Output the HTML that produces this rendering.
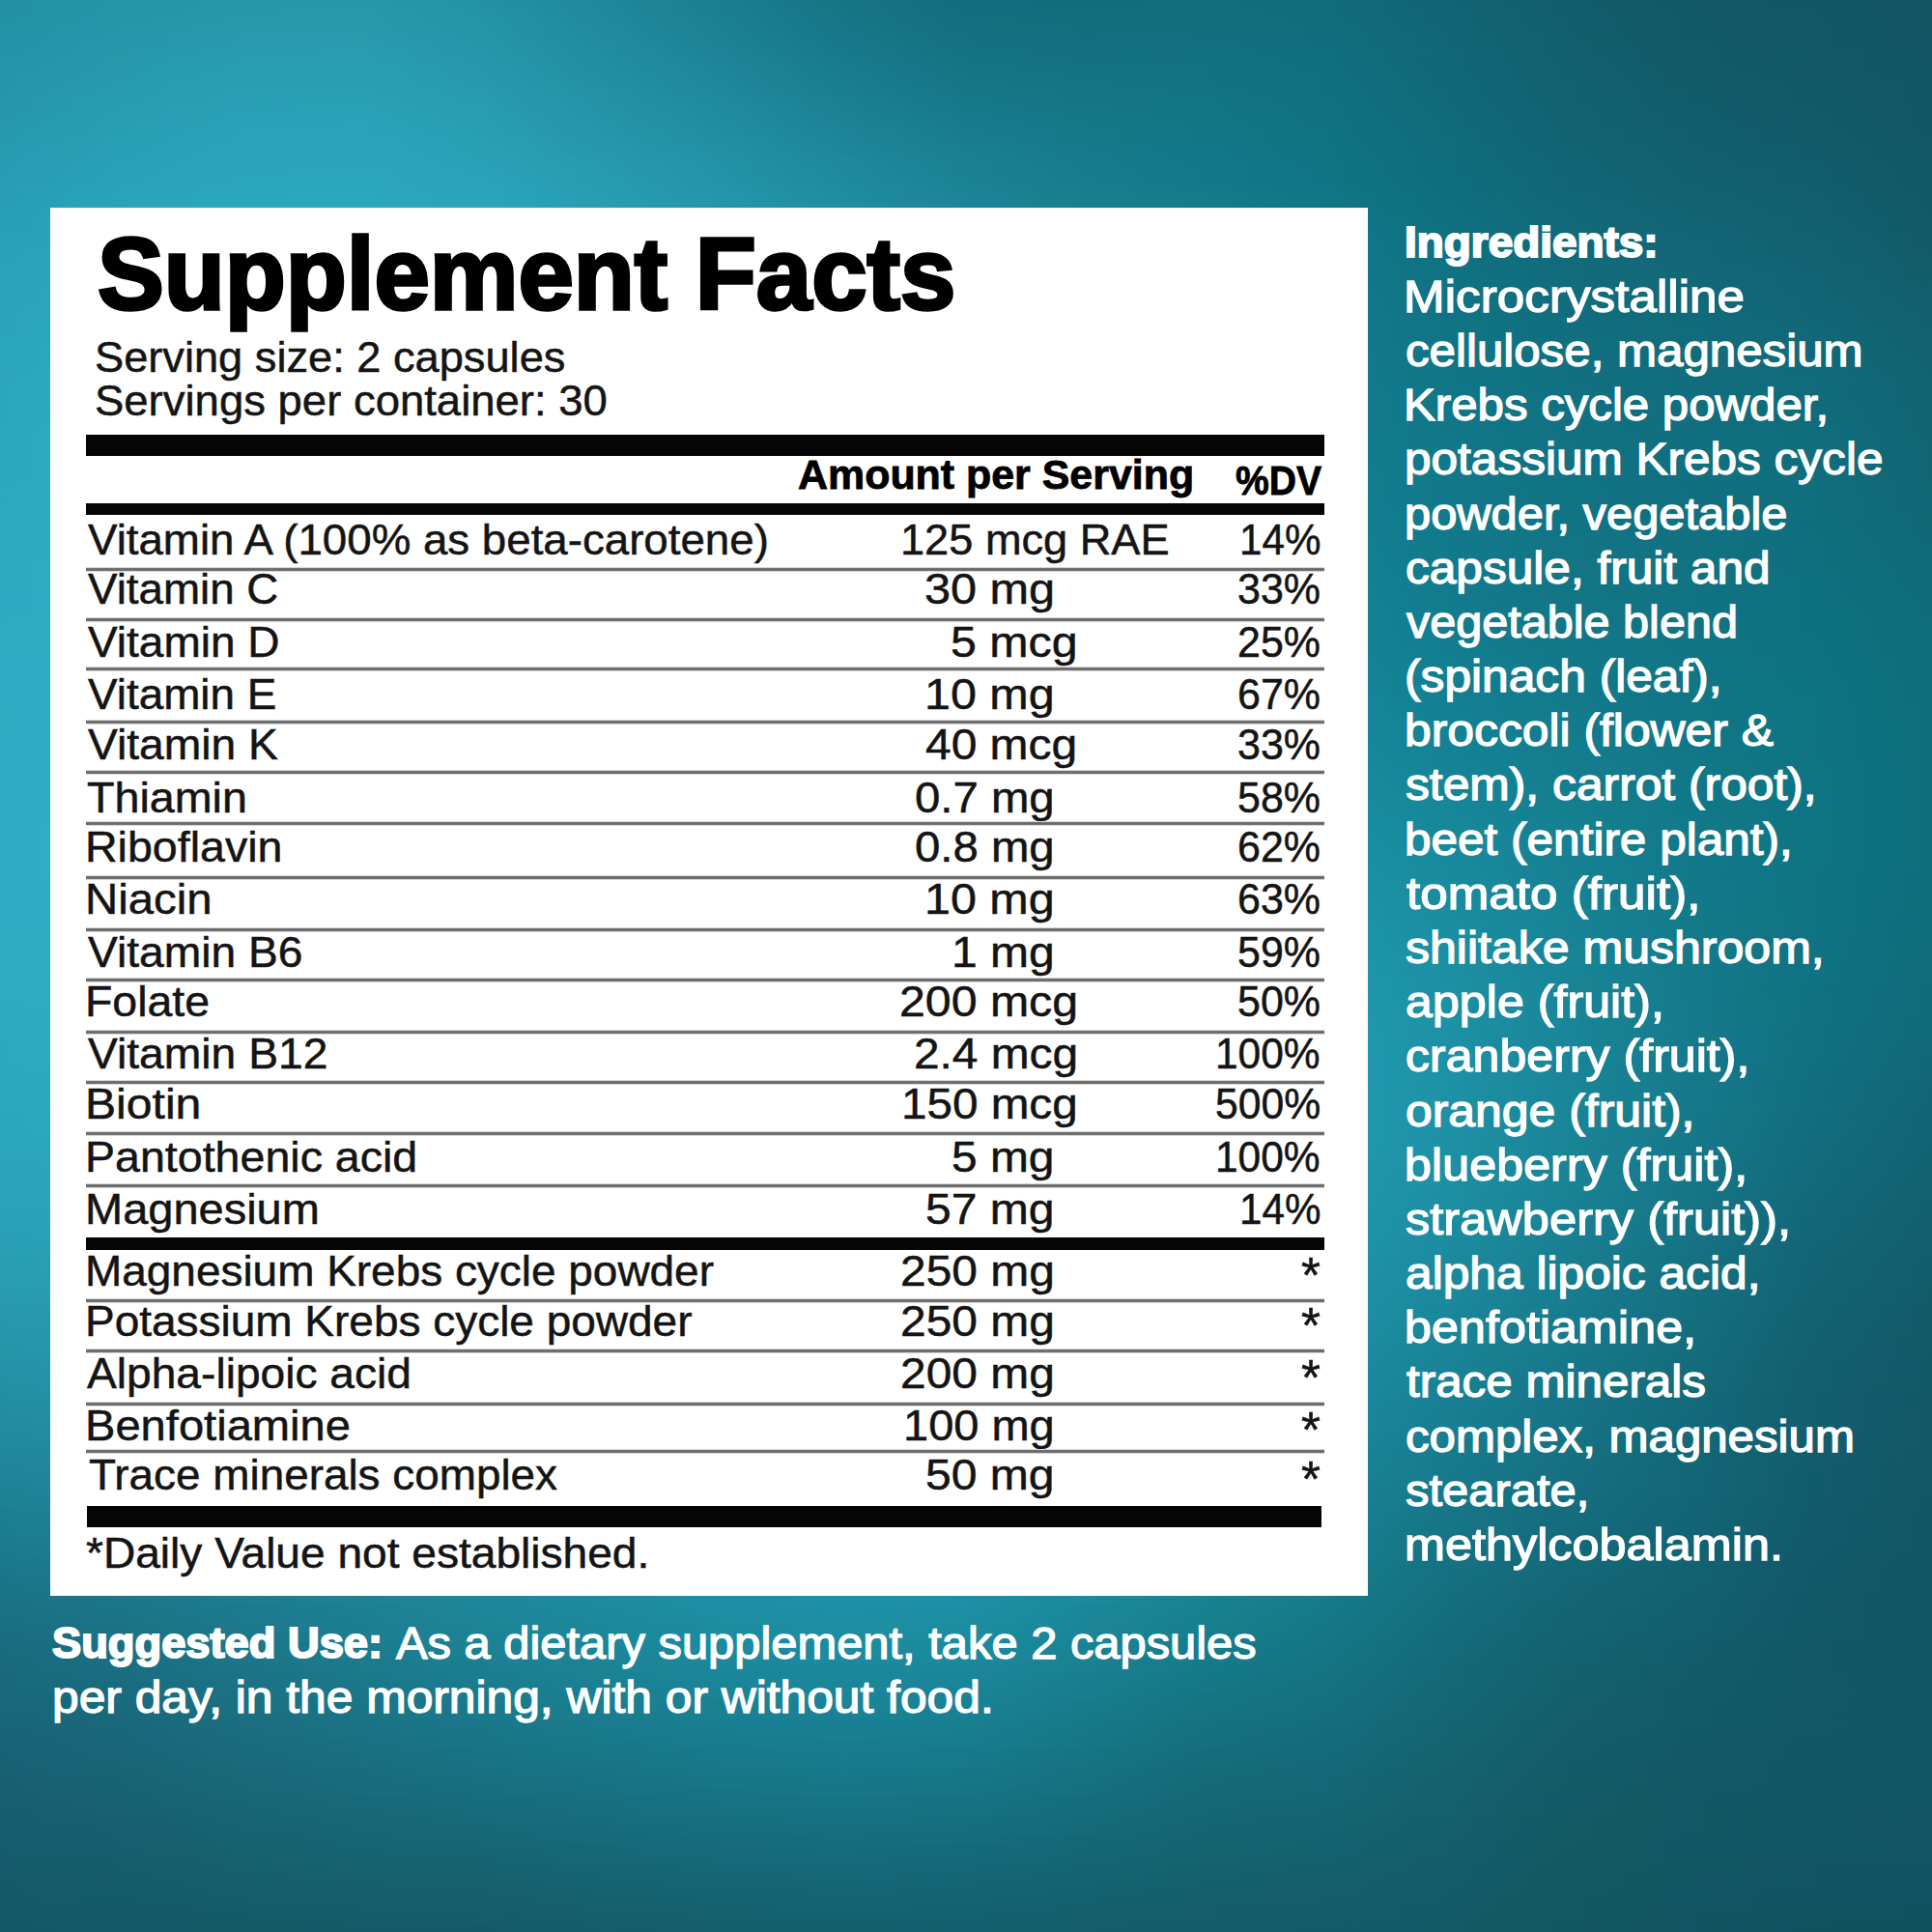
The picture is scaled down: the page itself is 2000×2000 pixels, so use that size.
<!DOCTYPE html>
<html lang="en"><head><meta charset="utf-8"><title>Supplement Facts</title>
<style>
html,body{margin:0;padding:0;}
body{width:2000px;height:2000px;position:relative;overflow:hidden;font-family:'Liberation Sans', Arimo, Arial, sans-serif;
background:#1a7a8e;}
.bg{position:absolute;left:0;top:0;width:2000px;height:2000px;}
.bg i{display:block;height:10px;}
.panel{position:absolute;left:52px;top:215px;width:1364px;height:1437px;background:#fff;}
.t{position:absolute;white-space:nowrap;line-height:1;color:#141414;transform-origin:0 0;font-weight:400;}
.t.r{transform-origin:100% 0;}
.t.b{font-weight:700;color:#000;}
.t.w{color:#fff;}
.bar{position:absolute;left:89px;width:1282px;background:#050505;}
.ln{position:absolute;left:89px;width:1282px;height:5px;background:linear-gradient(#d6d6d6 0,#d6d6d6 20%,#747474 20%,#747474 40%,#686868 40%,#686868 60%,#747474 60%,#747474 80%,#d6d6d6 80%);}
</style></head>
<body>
<div class="bg" aria-hidden="true">
<i style="background:linear-gradient(90deg,#2291a4,#2494a8,#2697ab,#2698ab,#2392a5,#1f889c,#1b7e91,#177486,#146d7e,#136c7c,#136d7d,#116b7b,#116474,#115d6b,#125866,#125663,#135461)"></i>
<i style="background:linear-gradient(90deg,#2291a5,#2495a9,#2698ac,#2799ac,#2493a6,#1f899d,#1b7f92,#177587,#146e7f,#136d7d,#136e7d,#116b7b,#116574,#115e6c,#125966,#125764,#135461)"></i>
<i style="background:linear-gradient(90deg,#2292a6,#2596aa,#2799ad,#2799ad,#2494a7,#208a9e,#1c8093,#177688,#146f80,#136e7e,#136e7e,#116c7c,#116574,#115e6c,#125966,#125764,#135562)"></i>
<i style="background:linear-gradient(90deg,#2292a7,#2597ab,#279aae,#279aae,#2495a8,#208b9f,#1c8195,#187789,#157081,#146e7f,#136f7f,#116d7d,#116675,#115f6c,#125967,#125765,#135562)"></i>
<i style="background:linear-gradient(90deg,#2393a7,#2597ac,#279aaf,#289baf,#2595aa,#218ca0,#1c8296,#18788b,#157182,#146f80,#137080,#116d7d,#116675,#115f6d,#125a67,#125765,#135562)"></i>
<i style="background:linear-gradient(90deg,#2394a8,#2698ac,#289bb0,#289cb0,#2596ab,#218da1,#1d8397,#19798c,#157283,#147081,#137080,#116e7e,#116776,#115f6d,#125a68,#125865,#135562)"></i>
<i style="background:linear-gradient(90deg,#2394a9,#2699ad,#289cb1,#289db1,#2697ac,#218ea2,#1d8599,#197b8d,#167384,#147181,#137181,#116e7e,#106776,#11606e,#125a68,#125866,#125562)"></i>
<i style="background:linear-gradient(90deg,#2495aa,#2699ae,#289db2,#299eb2,#2698ad,#228fa3,#1e869a,#197c8f,#167486,#147282,#137282,#116f7f,#106777,#11606e,#125b69,#125866,#125562)"></i>
<i style="background:linear-gradient(90deg,#2496aa,#279aaf,#299eb3,#299eb3,#2699ae,#2290a4,#1e879b,#1a7d90,#177587,#157383,#137282,#116f7f,#106877,#11616f,#125b69,#125967,#125663)"></i>
<i style="background:linear-gradient(90deg,#2496ab,#279bb0,#299eb4,#299fb4,#279aaf,#2391a6,#1f889d,#1a7e91,#177789,#157485,#137383,#117080,#106878,#11616f,#115c6a,#115967,#125663)"></i>
<i style="background:linear-gradient(90deg,#2597ac,#279cb1,#299fb5,#2aa0b5,#279bb0,#2392a7,#1f8a9e,#1b8093,#17788a,#157586,#137484,#117081,#106978,#116170,#115c6a,#115968,#125663)"></i>
<i style="background:linear-gradient(90deg,#2597ad,#289cb2,#2aa0b6,#2aa1b6,#289cb1,#2493a8,#208b9f,#1b8194,#18798b,#157687,#137485,#117181,#106979,#116270,#115d6b,#115a68,#125663)"></i>
<i style="background:linear-gradient(90deg,#2598ad,#289db3,#2aa1b6,#2aa2b7,#289db2,#2494a9,#208ca1,#1c8296,#187b8d,#157788,#137585,#117182,#106a79,#116271,#115d6b,#115a69,#125663)"></i>
<i style="background:linear-gradient(90deg,#2699ae,#289eb3,#2aa2b7,#2ba2b8,#289eb3,#2595aa,#218da2,#1c8497,#197c8e,#167889,#137686,#107282,#106a7a,#116372,#115e6c,#115b69,#125664)"></i>
<i style="background:linear-gradient(90deg,#2699af,#289fb4,#2aa2b8,#2ba3b9,#299fb4,#2596ab,#218fa3,#1d8599,#197d90,#16798a,#137687,#107283,#106b7a,#116372,#115e6d,#115b6a,#115764)"></i>
<i style="background:linear-gradient(90deg,#269ab0,#299fb5,#2ba3b9,#2ba4ba,#299fb5,#2697ad,#2290a5,#1d869a,#1a7f91,#167a8b,#127788,#107383,#106b7b,#116473,#115f6d,#115c6a,#115764)"></i>
<i style="background:linear-gradient(90deg,#279bb1,#29a0b6,#2ba4ba,#2ba4bb,#2aa0b6,#2699ae,#2291a6,#1e889c,#1a8093,#167b8c,#127889,#107384,#0f6c7c,#116573,#115f6e,#115c6b,#115764)"></i>
<i style="background:linear-gradient(90deg,#279bb1,#29a1b7,#2ba4bb,#2ca5bc,#2aa1b7,#279aaf,#2292a7,#1e899d,#1a8194,#167c8d,#127989,#107485,#0f6c7c,#116574,#11606f,#115d6c,#115865)"></i>
<i style="background:linear-gradient(90deg,#279cb2,#2aa1b7,#2ba5bb,#2ca6bc,#2aa2b8,#279bb0,#2393a8,#1e8a9e,#1b8295,#167d8e,#12798a,#107485,#0f6d7d,#116675,#116070,#115d6c,#115865)"></i>
<i style="background:linear-gradient(90deg,#289db3,#2aa2b8,#2ca6bc,#2ca6bd,#2ba3b9,#279cb1,#2394a9,#1f8ba0,#1b8396,#177e8f,#127a8b,#107586,#0f6d7d,#116675,#116170,#115e6d,#115865)"></i>
<i style="background:linear-gradient(90deg,#289db4,#2aa3b9,#2ca6bd,#2ca7be,#2ba3ba,#289cb2,#2495aa,#1f8ca1,#1b8498,#177e90,#137b8c,#107686,#0f6e7e,#116776,#126271,#115f6e,#115966)"></i>
<i style="background:linear-gradient(90deg,#289eb5,#2aa3ba,#2ca7bd,#2da7bf,#2ba4bb,#289db3,#2496ab,#208da2,#1c8599,#177f91,#137b8d,#107687,#0f6e7f,#116877,#126372,#115f6e,#115966)"></i>
<i style="background:linear-gradient(90deg,#299fb5,#2ba4ba,#2ca7be,#2da8bf,#2ba5bb,#299eb4,#2497ac,#208ea3,#1c869a,#178092,#137c8d,#107788,#106f7f,#116877,#126473,#11606f,#115a67)"></i>
<i style="background:linear-gradient(90deg,#299fb6,#2ba4bb,#2ca8bf,#2da8c0,#2ca5bc,#299fb5,#2598ad,#208fa4,#1c879b,#178193,#137c8e,#107788,#107080,#116978,#126474,#116070,#125a67)"></i>
<i style="background:linear-gradient(90deg,#29a0b7,#2ba5bc,#2da8bf,#2da9c0,#2ca6bd,#29a0b6,#2599ae,#2190a5,#1c889c,#178294,#137d8f,#107889,#107081,#116979,#126575,#116170,#125b68)"></i>
<i style="background:linear-gradient(90deg,#29a1b7,#2ba5bc,#2da9c0,#2da9c1,#2ca6bd,#29a0b6,#2599af,#2191a6,#1d899d,#188295,#137d8f,#107889,#107181,#116a79,#126675,#116271,#125b68)"></i>
<i style="background:linear-gradient(90deg,#2aa1b8,#2ca6bd,#2da9c0,#2eaac1,#2ca7be,#2aa1b7,#269ab0,#2192a7,#1d8a9e,#188396,#137e90,#11788a,#107182,#116a7a,#126676,#116272,#125c69)"></i>
<i style="background:linear-gradient(90deg,#2aa2b9,#2ca6bd,#2daac1,#2eaac2,#2da7be,#2aa2b8,#269bb1,#2193a8,#1d8b9f,#188497,#137f91,#11798a,#107282,#116b7b,#126777,#116372,#125d6a)"></i>
<i style="background:linear-gradient(90deg,#2aa2b9,#2ca7be,#2daac1,#2eabc2,#2da8bf,#2aa2b8,#269bb1,#2293a9,#1d8b9f,#188598,#137f91,#11798b,#107283,#116b7b,#126877,#116473,#125d6a)"></i>
<i style="background:linear-gradient(90deg,#2aa3ba,#2ca7be,#2eaac2,#2eabc2,#2da8bf,#2aa3b9,#269cb2,#2294a9,#1d8ca0,#188598,#137f92,#117a8b,#107283,#116c7c,#126878,#116474,#125e6b)"></i>
<i style="background:linear-gradient(90deg,#2aa3ba,#2ca7bf,#2eabc2,#2eabc3,#2da9c0,#2ba3ba,#279db3,#2295aa,#1d8da1,#188699,#148092,#117a8c,#107384,#116c7c,#126979,#116574,#125e6c)"></i>
<i style="background:linear-gradient(90deg,#2ba3ba,#2da8bf,#2eabc2,#2eacc3,#2da9c0,#2ba4ba,#279db3,#2295ab,#1e8ea2,#18879a,#148093,#117a8c,#107384,#116d7d,#126979,#116675,#125f6c)"></i>
<i style="background:linear-gradient(90deg,#2ba4bb,#2da8bf,#2eabc3,#2eacc3,#2ea9c1,#2ba4bb,#279eb4,#2396ab,#1e8ea3,#19879a,#148193,#117b8d,#107385,#116d7d,#116a7a,#116676,#12606d)"></i>
<i style="background:linear-gradient(90deg,#2ba4bb,#2da8c0,#2eabc3,#2facc4,#2eaac1,#2ba5bb,#279eb4,#2397ac,#1e8fa3,#19889b,#148194,#117b8d,#107485,#116e7e,#116a7a,#116776,#12606e)"></i>
<i style="background:linear-gradient(90deg,#2ba4bb,#2da9c0,#2eacc3,#2facc4,#2eaac1,#2ba5bc,#279fb5,#2397ad,#1e8fa4,#19889c,#148295,#117b8d,#107485,#116e7e,#116b7b,#116877,#11616e)"></i>
<i style="background:linear-gradient(90deg,#2ba5bc,#2da9c0,#2eacc3,#2facc4,#2eaac2,#2ba5bc,#289fb5,#2398ad,#1e90a5,#19899c,#148295,#117b8e,#107486,#116f7f,#116b7b,#116877,#11616f)"></i>
<i style="background:linear-gradient(90deg,#2ba5bc,#2da9c1,#2facc4,#2fadc4,#2eaac2,#2ca6bc,#289fb6,#2398ae,#1e90a5,#19899d,#148296,#117c8e,#107586,#116f7f,#116c7c,#116978,#116270)"></i>
<i style="background:linear-gradient(90deg,#2ba5bc,#2da9c1,#2facc4,#2fadc5,#2eabc2,#2ca6bd,#28a0b6,#2499ae,#1e91a6,#198a9e,#148396,#117c8e,#107586,#116f80,#116c7c,#116979,#116370)"></i>
<i style="background:linear-gradient(90deg,#2ca5bc,#2daac1,#2facc4,#2fadc5,#2eabc2,#2ca6bd,#28a0b7,#2499af,#1f91a6,#198a9e,#148396,#117c8f,#107587,#117080,#116d7c,#116a79,#116371)"></i>
<i style="background:linear-gradient(90deg,#2ca6bd,#2eaac1,#2fadc4,#2fadc5,#2eabc3,#2ca6bd,#28a0b7,#2499af,#1f92a7,#198b9f,#158497,#117c8f,#107587,#117080,#116d7d,#116b7a,#116471)"></i>
<i style="background:linear-gradient(90deg,#2ca6bd,#2eaac1,#2fadc4,#2fadc5,#2eabc3,#2ca7be,#28a1b7,#249ab0,#1f92a7,#198b9f,#158497,#117d8f,#107687,#117081,#116d7d,#106b7a,#116472)"></i>
<i style="background:linear-gradient(90deg,#2ca6bd,#2eaac2,#2fadc5,#2fadc5,#2fabc3,#2ca7be,#29a1b8,#249ab0,#1f93a8,#1a8ca0,#158498,#117d90,#107688,#117181,#116e7e,#106b7b,#116472)"></i>
<i style="background:linear-gradient(90deg,#2ca6bd,#2eaac2,#2fadc5,#30aec5,#2fabc3,#2ca7be,#29a1b8,#249bb0,#1f93a8,#1a8ca0,#158598,#127d90,#107688,#117181,#116e7e,#106c7b,#116572)"></i>
<i style="background:linear-gradient(90deg,#2ca6bd,#2eaac2,#2fadc5,#30aec6,#2facc3,#2ca7be,#29a2b8,#249bb1,#1f94a9,#1a8ca1,#158599,#127d90,#107688,#117182,#116e7e,#106c7b,#116573)"></i>
<i style="background:linear-gradient(90deg,#2ca7be,#2eabc2,#2fadc5,#30aec6,#2facc3,#2ca7bf,#29a2b8,#249bb1,#1f94a9,#1a8da1,#158599,#127e91,#117788,#117182,#116f7e,#106d7c,#116573)"></i>
<i style="background:linear-gradient(90deg,#2ca7be,#2eabc2,#2fadc5,#30aec6,#2facc3,#2da8bf,#29a2b9,#259bb2,#1f94aa,#1a8da2,#158699,#127e91,#117789,#117282,#116f7f,#106d7c,#116673)"></i>
<i style="background:linear-gradient(90deg,#2ca7be,#2eabc2,#30adc5,#30aec6,#2facc3,#2da8bf,#29a2b9,#259cb2,#2095aa,#1a8da2,#15869a,#127e91,#117789,#117282,#116f7f,#106d7c,#116674)"></i>
<i style="background:linear-gradient(90deg,#2da7be,#2eabc2,#30adc5,#30aec6,#2facc4,#2da8bf,#29a2b9,#259cb2,#2095aa,#1a8ea2,#15869a,#127e92,#117789,#117283,#116f7f,#106d7c,#116674)"></i>
<i style="background:linear-gradient(90deg,#2da7be,#2eabc2,#30aec5,#30aec6,#2facc4,#2da8bf,#29a2b9,#259cb2,#2095ab,#1a8ea3,#15869a,#127f92,#11778a,#117283,#11707f,#106d7c,#116674)"></i>
<i style="background:linear-gradient(90deg,#2da7be,#2eabc3,#30aec5,#30aec6,#2facc4,#2da8bf,#29a3b9,#259cb3,#2096ab,#1b8ea3,#16879b,#127f92,#11788a,#117283,#117080,#106e7d,#116674)"></i>
<i style="background:linear-gradient(90deg,#2da8bf,#2fabc3,#30aec5,#30aec6,#2facc4,#2da8bf,#29a3ba,#259db3,#2096ac,#1b8fa4,#16879b,#127f92,#11788a,#117383,#117080,#106e7d,#116774)"></i>
<i style="background:linear-gradient(90deg,#2da8bf,#2fabc3,#30aec6,#30aec6,#2facc4,#2da8bf,#29a3ba,#259db3,#2096ac,#1b8fa4,#16879c,#127f93,#11788a,#117384,#117080,#106e7d,#116775)"></i>
<i style="background:linear-gradient(90deg,#2da8bf,#2fabc3,#30aec6,#30aec6,#2facc4,#2da8bf,#29a3ba,#259db3,#2097ac,#1b8fa4,#16889c,#128093,#11788b,#117384,#117080,#106e7d,#106775)"></i>
<i style="background:linear-gradient(90deg,#2da8bf,#2fabc3,#30aec6,#30aec6,#2facc4,#2da8bf,#2aa3ba,#259db4,#2097ac,#1b90a5,#16889c,#128093,#11798b,#117384,#117080,#106e7d,#106875)"></i>
<i style="background:linear-gradient(90deg,#2da8bf,#2facc3,#30aec6,#30aec6,#2facc4,#2da8bf,#2aa3ba,#259db4,#2097ad,#1b90a5,#16889d,#138094,#11798b,#117384,#117180,#0f6e7d,#106876)"></i>
<i style="background:linear-gradient(90deg,#2da8c0,#2facc3,#30aec6,#30aec6,#2facc4,#2da8bf,#2aa3ba,#259eb4,#2097ad,#1b90a5,#16899d,#138094,#11798b,#127485,#117181,#0f6f7d,#106876)"></i>
<i style="background:linear-gradient(90deg,#2da8c0,#2facc3,#30aec6,#30aec6,#2facc3,#2da8bf,#2aa3ba,#259eb4,#2198ad,#1b91a6,#16899d,#138194,#11798c,#127485,#117181,#0f6f7e,#106976)"></i>
<i style="background:linear-gradient(90deg,#2da9c0,#2facc3,#30aec6,#30aec6,#2facc3,#2da8bf,#2aa3ba,#269eb4,#2198ae,#1b91a6,#17899e,#138195,#117a8c,#127485,#117181,#0f6f7e,#106977)"></i>
<i style="background:linear-gradient(90deg,#2ea9c0,#2facc4,#30aec6,#30aec6,#2facc3,#2da8bf,#2aa3ba,#269eb4,#2198ae,#1c91a6,#178a9e,#138195,#117a8c,#127485,#117281,#0f6f7e,#106a77)"></i>
<i style="background:linear-gradient(90deg,#2ea9c0,#2facc4,#30aec6,#30aec6,#2facc3,#2da8bf,#2aa3ba,#269eb5,#2198ae,#1c92a7,#178a9e,#138295,#127a8d,#127586,#117281,#0f707e,#0f6a77)"></i>
<i style="background:linear-gradient(90deg,#2ea9c0,#2facc4,#30aec6,#30aec6,#2fabc3,#2da8bf,#2aa3ba,#269eb5,#2198ae,#1c92a7,#178a9f,#138296,#127b8d,#127586,#117282,#0f707f,#0f6a78)"></i>
<i style="background:linear-gradient(90deg,#2ea9c1,#2facc4,#30aec6,#30aec6,#2fabc3,#2da8bf,#2aa3ba,#269eb5,#2199af,#1c92a7,#178b9f,#138296,#127b8d,#127586,#117282,#0f707f,#0f6b78)"></i>
<i style="background:linear-gradient(90deg,#2ea9c1,#2facc4,#30aec6,#30aec5,#2fabc3,#2da8bf,#2aa3ba,#269eb5,#2199af,#1c93a8,#178b9f,#148396,#127b8e,#127687,#117382,#0e717f,#0f6b78)"></i>
<i style="background:linear-gradient(90deg,#2ea9c1,#2facc4,#30aec6,#30adc5,#2fabc3,#2da7bf,#2aa3ba,#269eb5,#2199af,#1c93a8,#178ba0,#148397,#127c8e,#127687,#117383,#0e717f,#0f6b79)"></i>
<i style="background:linear-gradient(90deg,#2eaac1,#30acc4,#30aec6,#30adc5,#2fabc3,#2da7bf,#2aa3ba,#269fb5,#2199af,#1c93a8,#188ca0,#148397,#127c8f,#127688,#117383,#0e7180,#0f6c79)"></i>
<i style="background:linear-gradient(90deg,#2eaac1,#30acc4,#30aec6,#30adc5,#2fabc3,#2da7bf,#2aa3ba,#269fb5,#229ab0,#1d93a9,#188ca1,#148497,#127d8f,#127788,#117483,#0e7180,#0f6c79)"></i>
<i style="background:linear-gradient(90deg,#2eaac1,#30acc4,#30aec6,#30adc5,#2fabc3,#2da7be,#2aa3ba,#269fb5,#229ab0,#1d94a9,#188ca1,#148498,#127d8f,#127788,#117484,#0e7280,#0f6c7a)"></i>
<i style="background:linear-gradient(90deg,#2eaac2,#30acc4,#31aec6,#30adc5,#2fabc2,#2da7be,#2aa3ba,#269fb5,#229ab0,#1d94aa,#188da1,#148598,#127d90,#127889,#107484,#0e7281,#0f6c7a)"></i>
<i style="background:linear-gradient(90deg,#2eaac2,#30adc4,#31aec6,#30adc5,#2fabc2,#2da7be,#2aa3ba,#269fb5,#229ab0,#1d94aa,#188da2,#148599,#137e90,#127889,#107584,#0e7281,#0f6d7a)"></i>
<i style="background:linear-gradient(90deg,#2eaac2,#30adc5,#31aec6,#30adc5,#2faac2,#2da7be,#2aa3ba,#269fb6,#229ab1,#1d95aa,#198ea2,#158699,#137e91,#12798a,#107585,#0e7281,#0f6d7a)"></i>
<i style="background:linear-gradient(90deg,#2eaac2,#30adc5,#31aec6,#30adc5,#2faac2,#2da7be,#2aa3ba,#269fb6,#229bb1,#1d95ab,#198ea3,#15869a,#137f91,#12798a,#107585,#0e7381,#0f6d7b)"></i>
<i style="background:linear-gradient(90deg,#2faac2,#30adc5,#31aec6,#30adc5,#2faac2,#2da6be,#2aa3ba,#269fb6,#229bb1,#1e95ab,#198fa3,#15869a,#137f92,#12798b,#107686,#0e7381,#0f6d7b)"></i>
<i style="background:linear-gradient(90deg,#2faac2,#30adc5,#31aec6,#30adc5,#2faac2,#2da6be,#2aa3ba,#269fb6,#229bb1,#1e96ab,#198fa4,#15879b,#138092,#127a8b,#107686,#0e7382,#0f6d7b)"></i>
<i style="background:linear-gradient(90deg,#2faac2,#30adc5,#31aec6,#30adc5,#2faac2,#2da6be,#2aa2ba,#279fb6,#229bb1,#1e96ac,#198fa4,#15879b,#138093,#127a8c,#107686,#0e7382,#0f6e7b)"></i>
<i style="background:linear-gradient(90deg,#2fabc2,#30adc5,#31aec6,#30adc4,#2faac1,#2da6bd,#2aa2b9,#279fb6,#229bb2,#1e96ac,#1a90a5,#16889c,#148193,#137b8c,#107687,#0e7382,#0f6e7b)"></i>
<i style="background:linear-gradient(90deg,#2fabc3,#30adc5,#31aec6,#30adc4,#2faac1,#2da6bd,#2aa2b9,#279fb6,#239cb2,#1e97ac,#1a90a5,#16899c,#148194,#137b8d,#117787,#0e7382,#0f6e7b)"></i>
<i style="background:linear-gradient(90deg,#2fabc3,#30adc5,#31aec6,#30acc4,#2faac1,#2da6bd,#2aa2b9,#279fb6,#239cb2,#1e97ad,#1a91a6,#16899d,#148294,#137c8d,#117787,#0e7382,#0f6e7c)"></i>
<i style="background:linear-gradient(90deg,#2fabc3,#30adc5,#31aec6,#30acc4,#2fa9c1,#2da6bd,#2aa2b9,#279fb6,#239cb2,#1f98ad,#1a91a6,#168a9d,#148295,#137c8e,#117788,#0e7382,#0f6e7c)"></i>
<i style="background:linear-gradient(90deg,#2fabc3,#30adc5,#31aec5,#30acc4,#2fa9c1,#2da5bd,#2aa2b9,#27a0b6,#239cb3,#1f98ae,#1b92a7,#178a9e,#148395,#137d8e,#117888,#0e7383,#0f6e7c)"></i>
<i style="background:linear-gradient(90deg,#2fabc3,#30adc5,#31aec5,#30acc4,#2fa9c1,#2da5bd,#2aa2b9,#27a0b6,#239db3,#1f98ae,#1b92a7,#178b9f,#158396,#137d8f,#117888,#0e7483,#0f6e7c)"></i>
<i style="background:linear-gradient(90deg,#2fabc3,#30adc5,#31adc5,#30acc4,#2fa9c1,#2da5bc,#2aa2b9,#27a0b6,#239db3,#1f99ae,#1b93a8,#178c9f,#158497,#137d8f,#117888,#0e7483,#0f6e7c)"></i>
<i style="background:linear-gradient(90deg,#2fabc3,#30adc5,#31adc5,#30acc4,#2fa9c1,#2da5bc,#2aa2b9,#27a0b7,#239db3,#1f99af,#1b93a8,#188ca0,#158597,#147e8f,#117888,#0e7483,#0f6e7c)"></i>
<i style="background:linear-gradient(90deg,#2fabc3,#30adc5,#31adc5,#30acc4,#2fa9c0,#2da5bc,#2aa2b9,#27a0b7,#239db4,#2099af,#1c94a9,#188da1,#168598,#147e90,#117889,#0e7483,#0f6e7c)"></i>
<i style="background:linear-gradient(90deg,#2fabc3,#30adc5,#31adc5,#30acc4,#2fa9c0,#2da5bc,#2aa2b9,#27a0b7,#249eb4,#209ab0,#1c94a9,#188da1,#168699,#147f90,#117889,#0e7483,#0f6e7c)"></i>
<i style="background:linear-gradient(90deg,#2fabc3,#30adc5,#31adc5,#30acc3,#2fa9c0,#2da5bc,#2aa2b9,#27a0b7,#249eb4,#209ab0,#1c95aa,#198ea2,#168799,#147f91,#117989,#0e7483,#0f6e7c)"></i>
<i style="background:linear-gradient(90deg,#30abc3,#30adc5,#30adc5,#30acc3,#2fa9c0,#2da5bc,#2aa2b9,#27a0b7,#249eb5,#209bb0,#1d95ab,#198fa3,#17879a,#148091,#127989,#0e7483,#0f6e7c)"></i>
<i style="background:linear-gradient(90deg,#30abc3,#30adc5,#30adc5,#30acc3,#2fa9c0,#2da5bc,#2aa2b9,#27a0b7,#249eb5,#209bb1,#1d96ab,#1a8fa3,#17889b,#158092,#127989,#0e7483,#0f6e7c)"></i>
<i style="background:linear-gradient(90deg,#30abc3,#30adc5,#30adc5,#30acc3,#2fa8c0,#2da5bc,#2aa2b9,#27a0b7,#249fb5,#209bb1,#1d97ac,#1a90a4,#17889b,#158092,#127989,#0e7483,#0f6e7c)"></i>
<i style="background:linear-gradient(90deg,#30abc3,#30adc5,#30adc5,#30abc3,#2ea8c0,#2da4bc,#2aa2b9,#27a1b7,#249fb5,#219cb2,#1d97ac,#1a91a5,#18899c,#158192,#12798a,#0e7483,#0f6e7c)"></i>
<i style="background:linear-gradient(90deg,#30abc3,#30adc5,#30adc5,#30abc3,#2ea8c0,#2ca4bc,#2aa2b9,#27a1b8,#249fb6,#219cb2,#1e98ad,#1b91a5,#188a9d,#158193,#12798a,#0f7483,#0f6e7c)"></i>
<i style="background:linear-gradient(90deg,#30abc3,#30adc5,#30adc5,#30abc3,#2ea8c0,#2ca4bc,#2aa2b9,#27a1b8,#249fb6,#219cb3,#1e98ad,#1b92a6,#188a9d,#168193,#12798a,#0f7383,#0f6d7c)"></i>
<i style="background:linear-gradient(90deg,#2fabc3,#30adc5,#30adc5,#2fabc3,#2ea8c0,#2ca4bc,#2aa2b9,#27a1b8,#24a0b6,#219db3,#1e99ae,#1b93a7,#198b9e,#168294,#13798a,#0f7383,#0f6d7c)"></i>
<i style="background:linear-gradient(90deg,#2fabc3,#30adc5,#30adc4,#2fabc3,#2ea8bf,#2ca4bc,#2aa2b9,#27a1b8,#24a0b6,#219db3,#1e99ae,#1c93a7,#198b9e,#168294,#13798a,#0f7383,#0f6d7b)"></i>
<i style="background:linear-gradient(90deg,#2fabc3,#30adc5,#30adc4,#2fabc2,#2ea8bf,#2ca4bc,#2aa2b9,#27a1b8,#25a0b7,#229eb4,#1f9aaf,#1c94a8,#198c9f,#168294,#13798a,#0f7383,#0f6d7b)"></i>
<i style="background:linear-gradient(90deg,#2fabc3,#30adc4,#30adc4,#2fabc2,#2ea8bf,#2ca4bc,#2aa2b9,#27a1b8,#25a0b7,#229eb4,#1f9aaf,#1c94a9,#1a8ca0,#178395,#137a8a,#0f7383,#0f6d7b)"></i>
<i style="background:linear-gradient(90deg,#2fabc3,#30adc4,#30adc4,#2fabc2,#2ea8bf,#2ca5bc,#2aa2b9,#27a2b9,#25a1b7,#229eb5,#1f9ab0,#1d95a9,#1a8da0,#178395,#137a8a,#0f7383,#0f6c7b)"></i>
<i style="background:linear-gradient(90deg,#2fabc2,#30adc4,#30acc4,#2fabc2,#2ea8bf,#2ca5bc,#2aa2ba,#27a2b9,#25a1b8,#229fb5,#1f9bb0,#1d96aa,#1a8da1,#178396,#137a8b,#107383,#0f6c7b)"></i>
<i style="background:linear-gradient(90deg,#2fabc2,#30adc4,#30acc4,#2fabc2,#2ea8bf,#2ca5bc,#2aa3ba,#27a2b9,#25a1b8,#229fb5,#209bb1,#1d96ab,#1b8ea1,#178496,#147a8b,#107283,#0f6c7b)"></i>
<i style="background:linear-gradient(90deg,#2fabc2,#30acc4,#2facc3,#2faac2,#2ea8bf,#2ca5bc,#2aa3ba,#27a2b9,#25a1b8,#229fb6,#209cb1,#1e97ab,#1b8ea2,#188496,#147a8b,#107283,#106c7a)"></i>
<i style="background:linear-gradient(90deg,#2fabc2,#2facc3,#2facc3,#2faac2,#2da8bf,#2ca5bc,#2aa3ba,#27a2b9,#25a2b8,#22a0b6,#209cb2,#1e97ac,#1b8fa2,#188496,#147a8b,#107282,#106b7a)"></i>
<i style="background:linear-gradient(90deg,#2eabc1,#2facc3,#2facc3,#2faac1,#2da8bf,#2ca5bc,#2aa3ba,#27a3ba,#25a2b9,#23a0b6,#209db2,#1e97ac,#1c8fa3,#188497,#147a8b,#107282,#106b7a)"></i>
<i style="background:linear-gradient(90deg,#2eaac1,#2facc3,#2facc3,#2eaac1,#2da8bf,#2ca5bc,#2aa3ba,#27a3ba,#25a2b9,#23a0b7,#219db3,#1f98ad,#1c90a3,#188597,#147a8b,#107282,#106b7a)"></i>
<i style="background:linear-gradient(90deg,#2eaac1,#2facc3,#2facc3,#2eaac1,#2da8bf,#2ca5bc,#2aa3ba,#27a3ba,#25a2b9,#23a0b7,#219db3,#1f98ad,#1c90a4,#188597,#147a8b,#107182,#106a7a)"></i>
<i style="background:linear-gradient(90deg,#2eaac1,#2facc3,#2fabc2,#2eaac1,#2da7bf,#2ba5bc,#2aa4bb,#27a3ba,#25a2b9,#23a1b7,#219eb3,#1f99ae,#1c90a4,#198598,#147a8b,#117182,#106a79)"></i>
<i style="background:linear-gradient(90deg,#2eaac0,#2fabc2,#2fabc2,#2eaac1,#2da7bf,#2ba5bc,#29a4bb,#27a3ba,#25a3ba,#23a1b7,#219eb4,#1f99ae,#1d90a4,#198598,#157a8b,#117182,#106a79)"></i>
<i style="background:linear-gradient(90deg,#2eaac0,#2fabc2,#2fabc2,#2ea9c1,#2da7be,#2ba5bc,#29a4bb,#27a3bb,#25a3ba,#23a1b8,#219eb4,#1f99af,#1d91a5,#198598,#157a8b,#117182,#106979)"></i>
<i style="background:linear-gradient(90deg,#2ea9c0,#2eabc2,#2eabc2,#2ea9c0,#2da7be,#2ba5bc,#29a4bb,#27a4bb,#25a3ba,#23a1b8,#219eb4,#2099af,#1d91a5,#198598,#157a8c,#117081,#106978)"></i>
<i style="background:linear-gradient(90deg,#2da9bf,#2eabc1,#2eabc1,#2ea9c0,#2ca7be,#2ba5bc,#29a4bb,#27a4bb,#25a3ba,#23a1b8,#229eb5,#209aaf,#1d91a5,#198598,#157a8c,#117081,#106978)"></i>
<i style="background:linear-gradient(90deg,#2da9bf,#2eabc1,#2eaac1,#2da9c0,#2ca7be,#2ba5bc,#29a4bb,#27a4bb,#25a3ba,#23a2b8,#229fb5,#209aaf,#1d91a6,#198598,#157a8c,#117081,#116878)"></i>
<i style="background:linear-gradient(90deg,#2da9bf,#2eaac1,#2eaac1,#2da9c0,#2ca7be,#2ba5bc,#29a4bc,#27a4bb,#25a3bb,#23a2b9,#229fb5,#209ab0,#1d91a6,#198598,#157a8c,#117081,#116877)"></i>
<i style="background:linear-gradient(90deg,#2da8be,#2eaac0,#2eaac1,#2da9bf,#2ca7be,#2ba5bc,#29a4bc,#27a4bb,#25a4bb,#23a2b9,#229fb5,#209ab0,#1e91a6,#1a8598,#15798b,#116f80,#116777)"></i>
<i style="background:linear-gradient(90deg,#2da8be,#2daac0,#2da9c0,#2da8bf,#2ca7be,#2ba5bc,#29a5bc,#27a4bc,#25a4bb,#23a2b9,#229fb5,#209ab0,#1e91a6,#1a8598,#16798b,#116f80,#116776)"></i>
<i style="background:linear-gradient(90deg,#2ca8be,#2da9c0,#2da9c0,#2da8bf,#2ca7be,#2aa5bc,#29a5bc,#27a4bc,#25a4bb,#23a2b9,#229fb5,#209ab0,#1e91a6,#1a8598,#16798b,#116e80,#116676)"></i>
<i style="background:linear-gradient(90deg,#2ca7bd,#2da9bf,#2da9bf,#2da8bf,#2ca6bd,#2aa5bc,#29a5bc,#27a5bc,#25a4bb,#23a2b9,#229fb6,#219ab0,#1e91a6,#1a8598,#16798b,#116e7f,#116675)"></i>
<i style="background:linear-gradient(90deg,#2ca7bd,#2da9bf,#2da8bf,#2ca8be,#2ba6bd,#2aa5bc,#29a5bc,#27a5bc,#25a4bb,#23a2b9,#229fb6,#219ab0,#1e91a6,#1a8598,#16798b,#126e7f,#116575)"></i>
<i style="background:linear-gradient(90deg,#2ca6bc,#2da8be,#2da8bf,#2ca7be,#2ba6bd,#2aa5bc,#29a5bc,#27a5bc,#25a4bb,#23a2b9,#229fb6,#219ab0,#1e91a6,#1a8598,#16788a,#126d7e,#116574)"></i>
<i style="background:linear-gradient(90deg,#2ca6bc,#2ca8be,#2ca8be,#2ca7be,#2ba6bd,#2aa5bc,#28a5bc,#27a5bc,#25a4bb,#23a2b9,#229fb6,#219ab0,#1e91a6,#1a8497,#16788a,#126d7e,#116474)"></i>
<i style="background:linear-gradient(90deg,#2ca6bc,#2ca7be,#2ca7be,#2ca7bd,#2ba6bd,#2aa5bc,#28a5bc,#27a5bc,#25a4bb,#23a2b9,#229fb5,#209ab0,#1e90a5,#1a8497,#16788a,#126c7d,#116473)"></i>
<i style="background:linear-gradient(90deg,#2ba5bb,#2ca7bd,#2ca7bd,#2ca6bd,#2ba6bc,#29a5bc,#28a5bc,#27a5bc,#25a4bb,#23a2b9,#229fb5,#209aaf,#1e90a5,#1a8497,#167789,#126c7d,#116373)"></i>
<i style="background:linear-gradient(90deg,#2ba5bb,#2ca6bd,#2ca6bd,#2ba6bd,#2aa5bc,#29a5bc,#28a5bc,#27a5bc,#25a4bb,#23a2b9,#229fb5,#2099af,#1e90a5,#1a8397,#167789,#126b7c,#116372)"></i>
<i style="background:linear-gradient(90deg,#2ba4ba,#2ca6bc,#2ca6bc,#2ba6bc,#2aa5bc,#29a5bc,#28a5bc,#26a5bc,#25a4bb,#23a2b9,#229fb5,#2099af,#1e8fa4,#1a8396,#167688,#126b7b,#116271)"></i>
<i style="background:linear-gradient(90deg,#2ba4ba,#2ba5bc,#2ba6bc,#2ba5bc,#2aa5bc,#29a5bc,#28a5bc,#26a5bc,#25a4bb,#23a2b9,#229eb5,#2099ae,#1d8fa4,#1a8396,#167688,#126a7b,#116271)"></i>
<i style="background:linear-gradient(90deg,#2ba3b9,#2ba5bb,#2ba5bb,#2ba5bb,#2aa5bb,#29a5bc,#28a5bc,#26a5bc,#25a4bb,#23a2b9,#219eb5,#2098ae,#1d8fa3,#1a8295,#167687,#126a7a,#116170)"></i>
<i style="background:linear-gradient(90deg,#2aa2b8,#2ba4ba,#2ba4bb,#2aa4bb,#2aa4bb,#29a4bb,#27a5bc,#26a5bc,#25a4bb,#23a2b9,#219eb4,#2098ad,#1d8ea3,#198295,#167587,#126979,#116170)"></i>
<i style="background:linear-gradient(90deg,#2aa2b8,#2ba4ba,#2ba4ba,#2aa4ba,#29a4bb,#28a4bb,#27a5bc,#26a5bc,#25a4bb,#23a2b9,#219eb4,#1f97ad,#1d8ea2,#198194,#167586,#126878,#11606f)"></i>
<i style="background:linear-gradient(90deg,#2aa1b7,#2aa3b9,#2aa3ba,#2aa3ba,#29a4ba,#28a4bb,#27a5bc,#26a5bc,#24a4bb,#23a2b8,#219db4,#1f97ac,#1d8da1,#198194,#167485,#126878,#12606e)"></i>
<i style="background:linear-gradient(90deg,#2aa1b6,#2aa2b8,#2aa3b9,#2aa3b9,#29a3ba,#28a4bb,#27a4bc,#26a5bc,#24a4bb,#23a2b8,#219db3,#1f96ac,#1c8da1,#198093,#157485,#126777,#125f6e)"></i>
<i style="background:linear-gradient(90deg,#29a0b6,#2aa2b8,#2aa2b8,#29a2b9,#29a3ba,#28a4ba,#27a4bb,#26a5bc,#24a4bb,#23a1b8,#219db3,#1f96ab,#1c8ca0,#198093,#157384,#126776,#125f6d)"></i>
<i style="background:linear-gradient(90deg,#299fb5,#2aa1b7,#2aa2b8,#29a2b8,#28a3b9,#28a3ba,#27a4bb,#26a5bc,#24a4bb,#22a1b8,#219cb3,#1f95ab,#1c8b9f,#197f92,#157384,#126676,#125e6d)"></i>
<i style="background:linear-gradient(90deg,#299eb4,#29a0b6,#29a1b7,#29a1b8,#28a2b9,#27a3ba,#26a4bb,#25a4bc,#24a4bb,#22a1b7,#209cb2,#1e95aa,#1c8b9f,#197f91,#157283,#126575,#125e6c)"></i>
<i style="background:linear-gradient(90deg,#289eb3,#299fb5,#29a0b6,#29a1b7,#28a2b8,#27a3ba,#26a4bb,#25a4bc,#24a3ba,#22a1b7,#209cb2,#1e94a9,#1c8a9e,#197e91,#157182,#126574,#125d6c)"></i>
<i style="background:linear-gradient(90deg,#289db3,#299fb5,#299fb6,#28a0b7,#28a1b8,#27a3b9,#26a4bb,#25a4bb,#24a3ba,#22a0b7,#209bb1,#1e94a9,#1b8a9d,#187e90,#157182,#126474,#125d6b)"></i>
<i style="background:linear-gradient(90deg,#289cb2,#289eb4,#289fb5,#28a0b6,#27a1b7,#27a2b9,#26a3ba,#25a4bb,#24a3ba,#22a0b6,#209bb1,#1e93a8,#1b899d,#187d8f,#157081,#126473,#125d6b)"></i>
<i style="background:linear-gradient(90deg,#279bb1,#289db3,#289eb4,#289fb5,#27a0b7,#27a2b9,#26a3ba,#25a4bb,#23a3ba,#22a0b6,#209ab0,#1d93a8,#1b889c,#187c8f,#157080,#126372,#125c6a)"></i>
<i style="background:linear-gradient(90deg,#279ab0,#289cb2,#289db3,#279eb4,#27a0b6,#26a2b8,#26a3ba,#25a3bb,#23a2b9,#219fb6,#1f9ab0,#1d92a7,#1b889b,#187c8e,#156f80,#126372,#125c6a)"></i>
<i style="background:linear-gradient(90deg,#2799af,#279bb1,#279cb2,#279eb4,#279fb6,#26a1b8,#25a3ba,#24a3ba,#23a2b9,#219fb5,#1f99af,#1d91a6,#1a879b,#187b8d,#156f7f,#126271,#125b69)"></i>
<i style="background:linear-gradient(90deg,#2698ad,#279ab0,#279bb1,#279db3,#269fb5,#26a1b7,#25a2b9,#24a3ba,#23a2b9,#219fb5,#1f99ae,#1d91a6,#1a869a,#177a8d,#156e7e,#126271,#125b69)"></i>
<i style="background:linear-gradient(90deg,#2697ac,#2799af,#279bb0,#279cb2,#269eb4,#26a0b7,#25a2b9,#24a3ba,#23a2b8,#219eb4,#1f98ae,#1c90a5,#1a8599,#177a8c,#146e7e,#126170,#125a69)"></i>
<i style="background:linear-gradient(90deg,#2596ab,#2698ae,#269ab0,#269cb2,#269eb4,#25a0b6,#25a2b9,#24a2ba,#23a1b8,#219eb4,#1e98ad,#1c8fa4,#1a8599,#17798b,#146d7d,#126170,#125a68)"></i>
<i style="background:linear-gradient(90deg,#2595aa,#2697ad,#2699af,#269bb1,#269db3,#259fb6,#24a1b8,#24a2b9,#22a1b8,#209db3,#1e97ac,#1c8fa3,#198498,#17798a,#146d7c,#12606f,#125a68)"></i>
<i style="background:linear-gradient(90deg,#2594a9,#2596ac,#2698ae,#269ab0,#259db2,#259fb5,#24a1b8,#24a2b9,#22a1b7,#209db3,#1e97ac,#1c8ea3,#198397,#17788a,#146c7c,#12606f,#125968)"></i>
<i style="background:linear-gradient(90deg,#2492a8,#2595ab,#2597ad,#2599af,#259cb2,#259eb5,#24a1b7,#23a1b8,#22a0b7,#209cb2,#1e96ab,#1b8da2,#198296,#177789,#146c7b,#125f6e,#125968)"></i>
<i style="background:linear-gradient(90deg,#2491a7,#2594a9,#2596ac,#2598ae,#259bb1,#249eb4,#24a0b7,#23a1b8,#22a0b6,#209cb2,#1d95aa,#1b8ca1,#198296,#167688,#146b7a,#125f6e,#125968)"></i>
<i style="background:linear-gradient(90deg,#2390a5,#2493a8,#2595ab,#2598ad,#249bb0,#249db4,#24a0b6,#23a1b8,#229fb6,#209bb1,#1d95aa,#1b8ca0,#188195,#167687,#146b7a,#125f6e,#125967)"></i>
<i style="background:linear-gradient(90deg,#238fa4,#2492a7,#2494aa,#2497ac,#249ab0,#249db3,#239fb6,#23a0b7,#219fb5,#1f9bb0,#1d94a9,#1b8ba0,#188094,#167587,#136a79,#125e6d,#125867)"></i>
<i style="background:linear-gradient(90deg,#238ea3,#2390a6,#2493a8,#2496ab,#2499af,#239cb2,#239fb5,#23a0b7,#219eb5,#1f9ab0,#1d93a8,#1a8a9f,#187f93,#167486,#136a79,#125e6d,#125867)"></i>
<i style="background:linear-gradient(90deg,#228da2,#238fa5,#2492a7,#2495aa,#2499ae,#239cb2,#239eb5,#229fb6,#219eb4,#1f9aaf,#1c93a7,#1a899e,#187e92,#167485,#136979,#125e6d,#135867)"></i>
<i style="background:linear-gradient(90deg,#228ba0,#228ea3,#2391a6,#2394aa,#2398ad,#239bb1,#239eb4,#229fb6,#219db4,#1f99ae,#1c92a6,#1a899d,#187e91,#157384,#136978,#125e6d,#135867)"></i>
<i style="background:linear-gradient(90deg,#218a9f,#228da2,#2390a5,#2393a9,#2397ac,#239ab0,#229db3,#229eb5,#219db3,#1f98ad,#1c91a5,#1a889c,#177d90,#157284,#136878,#125d6d,#135867)"></i>
<i style="background:linear-gradient(90deg,#21899e,#228ba1,#228fa4,#2392a7,#2396ab,#229aaf,#229cb3,#229eb4,#219cb3,#1e98ad,#1c91a4,#19879b,#177c8f,#157283,#136877,#125d6d,#135867)"></i>
<i style="background:linear-gradient(90deg,#20879d,#218a9f,#228da3,#2291a6,#2295ab,#2299af,#229cb2,#219db4,#209cb2,#1e97ac,#1b90a3,#19869a,#177b8e,#157182,#136777,#125d6c,#135767)"></i>
<i style="background:linear-gradient(90deg,#20869b,#21899e,#228ca1,#2290a5,#2295aa,#2298ae,#229bb1,#219db3,#209bb1,#1e96ab,#1b8fa2,#198699,#177a8d,#157081,#136777,#115d6c,#135766)"></i>
<i style="background:linear-gradient(90deg,#1f859a,#20889d,#218ba0,#228fa4,#2294a9,#2198ad,#219ab1,#219cb2,#209bb1,#1e96aa,#1b8ea1,#198598,#177a8c,#156f80,#136676,#115c6c,#135766)"></i>
<i style="background:linear-gradient(90deg,#1f8498,#20869b,#218a9f,#218ea3,#2193a8,#2197ac,#219ab0,#219bb2,#209ab0,#1d95a9,#1b8ea0,#188497,#16798b,#156f80,#136676,#115c6c,#135766)"></i>
<i style="background:linear-gradient(90deg,#1e8297,#20859a,#21899e,#218da2,#2192a7,#2196ab,#2199af,#209bb1,#2099af,#1d94a8,#1a8d9f,#188396,#16788a,#146e7f,#136676,#115c6c,#135766)"></i>
<i style="background:linear-gradient(90deg,#1e8196,#1f8499,#20889d,#218ca1,#2191a6,#2195aa,#2098ae,#209ab0,#1f99ae,#1d93a7,#1a8c9e,#188395,#167789,#146d7e,#126575,#115c6b,#125665)"></i>
<i style="background:linear-gradient(90deg,#1e7f94,#1f8297,#20869b,#208ba0,#2090a5,#2094a9,#2098ad,#2099af,#1f98ae,#1d93a6,#1a8b9d,#188293,#167688,#146c7d,#126575,#115b6b,#125665)"></i>
<i style="background:linear-gradient(90deg,#1d7e93,#1e8196,#20859a,#208a9f,#208fa4,#2093a8,#2097ac,#2098af,#1f97ad,#1c92a5,#1a8a9c,#188192,#167587,#146c7c,#126474,#115b6b,#125665)"></i>
<i style="background:linear-gradient(90deg,#1d7d91,#1e8094,#1f8499,#20899e,#208ea3,#2093a7,#2096ac,#1f98ae,#1f96ac,#1c91a4,#19899b,#178091,#167586,#146b7b,#126474,#115b6b,#125664)"></i>
<i style="background:linear-gradient(90deg,#1c7b90,#1e7e93,#1f8397,#20889c,#1f8da1,#1f92a6,#1f95ab,#1f97ad,#1e95ab,#1c90a3,#198899,#177f90,#157484,#146a7a,#126373,#115b6a,#125664)"></i>
<i style="background:linear-gradient(90deg,#1c7a8e,#1d7d91,#1f8296,#1f879b,#1f8ca0,#1f91a5,#1f94aa,#1f96ac,#1e95aa,#1c8fa2,#198798,#177f8f,#157383,#146979,#126373,#115a6a,#125664)"></i>
<i style="background:linear-gradient(90deg,#1c788c,#1d7b90,#1e8095,#1f869a,#1f8b9f,#1f90a4,#1f93a9,#1f95ab,#1e94a9,#1b8ea1,#198697,#177e8e,#157282,#146978,#126272,#115a69,#125564)"></i>
<i style="background:linear-gradient(90deg,#1b778b,#1d7a8e,#1e7f94,#1f8599,#1e8a9e,#1e8fa3,#1e92a7,#1e94aa,#1e93a8,#1b8da0,#188596,#177d8c,#157181,#146877,#126271,#115969,#125563)"></i>
<i style="background:linear-gradient(90deg,#1b7589,#1c798d,#1e7e92,#1e8498,#1e899d,#1e8ea2,#1e91a6,#1e93a9,#1e92a7,#1b8c9e,#188494,#177c8b,#157080,#146776,#126171,#115969,#125563)"></i>
<i style="background:linear-gradient(90deg,#1b7487,#1c778b,#1e7d91,#1e8396,#1e889c,#1e8da1,#1e90a5,#1e92a8,#1d91a6,#1b8b9d,#188393,#167b8a,#156f7f,#146675,#126170,#115968,#125563)"></i>
<i style="background:linear-gradient(90deg,#1a7286,#1c768a,#1d7c90,#1e8295,#1d879b,#1d8ba0,#1d8fa4,#1d91a7,#1d90a5,#1a8a9c,#188292,#167a89,#156e7e,#146674,#12606f,#115868,#125563)"></i>
<i style="background:linear-gradient(90deg,#1a7184,#1b7589,#1d7a8e,#1d8094,#1d8699,#1d8a9e,#1d8ea3,#1d90a5,#1d8fa4,#1a889a,#178190,#167988,#146e7d,#136573,#12606f,#115867,#125563)"></i>
<i style="background:linear-gradient(90deg,#1a7083,#1b7487,#1d798d,#1d7f93,#1d8598,#1d899d,#1d8da2,#1d8fa4,#1c8ea2,#1a8799,#17808f,#167887,#146d7c,#136472,#125f6e,#115867,#125563)"></i>
<i style="background:linear-gradient(90deg,#1a6e82,#1b7286,#1c788c,#1d7e91,#1c8497,#1c889c,#1c8ca0,#1d8ea3,#1c8ca1,#1a8698,#177f8e,#167786,#146c7b,#136472,#125f6d,#115867,#125563)"></i>
<i style="background:linear-gradient(90deg,#196d81,#1b7185,#1c778a,#1c7d90,#1c8396,#1c879b,#1c8b9f,#1c8da1,#1c8b9f,#198596,#177d8c,#167685,#146b7a,#136371,#125e6c,#115867,#125563)"></i>
<i style="background:linear-gradient(90deg,#196c80,#1a7083,#1c7689,#1c7c8f,#1c8194,#1c8699,#1c899e,#1c8ba0,#1b8a9e,#198395,#177c8b,#157584,#146b79,#136270,#125d6b,#115766,#125563)"></i>
<i style="background:linear-gradient(90deg,#196b7e,#1a6f82,#1c7588,#1c7b8e,#1b8093,#1b8498,#1b889c,#1c8a9f,#1b899d,#198293,#167b89,#157483,#146a78,#13626f,#125d6b,#115766,#125563)"></i>
<i style="background:linear-gradient(90deg,#196a7d,#1a6e81,#1b7487,#1c7a8c,#1b7f92,#1b8396,#1b879b,#1b899d,#1b879b,#198192,#167988,#157382,#146977,#13616e,#125c6a,#115766,#125563)"></i>
<i style="background:linear-gradient(90deg,#18697c,#1a6d80,#1b7385,#1b788b,#1b7e90,#1b8295,#1b8699,#1b879c,#1a8699,#187f90,#167887,#157281,#146976,#13616d,#125c69,#115766,#125663)"></i>
<i style="background:linear-gradient(90deg,#18697c,#196c7f,#1b7284,#1b778a,#1b7c8f,#1a8194,#1b8498,#1b869a,#1a8498,#187e8f,#167785,#157180,#146875,#13606d,#125b69,#115766,#125664)"></i>
<i style="background:linear-gradient(90deg,#18687b,#196b7d,#1b7183,#1b7688,#1a7b8e,#1a7f92,#1a8396,#1a8599,#1a8396,#187d8d,#167584,#15707f,#146774,#13606c,#125b68,#115765,#125664)"></i>
<i style="background:linear-gradient(90deg,#18677a,#196a7c,#1a7081,#1a7587,#1a7a8c,#1a7e91,#1a8195,#1a8397,#198295,#187b8c,#167482,#156f7e,#146774,#135f6b,#125a67,#115765,#125664)"></i>
<i style="background:linear-gradient(90deg,#186679,#19697b,#1a6f80,#1a7486,#1a798b,#1a7c8f,#1a8093,#1a8295,#198093,#177a8a,#167381,#156e7d,#146673,#135f6a,#125a67,#115765,#125663)"></i>
<i style="background:linear-gradient(90deg,#186578,#19687a,#1a6e7f,#1a7384,#197789,#197b8d,#197f91,#198094,#187f91,#177888,#16717f,#156d7c,#146572,#135e6a,#125a66,#115765,#125663)"></i>
<i style="background:linear-gradient(90deg,#186477,#186779,#1a6d7e,#197283,#197688,#197a8c,#197d90,#197f92,#187d90,#177787,#15707e,#146c7b,#146571,#135e69,#125966,#115764,#125563)"></i>
<i style="background:linear-gradient(90deg,#186376,#186778,#196c7c,#197081,#197586,#19788a,#197c8e,#187d90,#187c8e,#177685,#156f7c,#146b7a,#146470,#135d68,#125965,#115664,#125563)"></i>
<i style="background:linear-gradient(90deg,#176375,#186677,#196b7b,#196f80,#187385,#187788,#187a8c,#187c8e,#177a8c,#167484,#156d7b,#146a79,#14636f,#135d68,#125965,#115664,#125563)"></i>
<i style="background:linear-gradient(90deg,#176274,#186576,#196a7a,#196e7f,#187283,#187587,#18798a,#187a8c,#17798a,#167382,#156c7a,#146978,#14636e,#135c67,#125865,#115664,#125562)"></i>
<i style="background:linear-gradient(90deg,#176173,#186475,#186979,#186d7d,#187182,#187485,#187789,#17798b,#177789,#167181,#156b78,#146877,#14626d,#135c67,#125864,#115664,#125562)"></i>
<i style="background:linear-gradient(90deg,#176072,#176374,#186878,#186c7c,#186f80,#187283,#177687,#177789,#167687,#16707f,#156a77,#146776,#14616c,#135c66,#125864,#125663,#125562)"></i>
<i style="background:linear-gradient(90deg,#176071,#176273,#186776,#186b7a,#176e7e,#177181,#177485,#177687,#167485,#156f7e,#156976,#146775,#14616c,#135b66,#125764,#125663,#125562)"></i>
<i style="background:linear-gradient(90deg,#165f70,#176272,#176675,#176979,#176c7d,#176f80,#177283,#177485,#167283,#156d7c,#146875,#146673,#14606b,#135b66,#125763,#125563,#125562)"></i>
<i style="background:linear-gradient(90deg,#165e6f,#176171,#176574,#176877,#176b7b,#176e7e,#177181,#167283,#167181,#156c7b,#146774,#146572,#14606b,#135b65,#125763,#125563,#125462)"></i>
<i style="background:linear-gradient(90deg,#165e6e,#166070,#176473,#176776,#176a79,#176d7c,#166f7f,#167181,#156f7f,#156b79,#146673,#146471,#135f6a,#135a65,#125763,#125562,#125461)"></i>
<i style="background:linear-gradient(90deg,#165d6d,#165f6f,#166372,#176674,#166877,#166b7a,#166e7d,#166f7f,#156e7e,#156a78,#146572,#136370,#135f6a,#135a65,#125763,#125562,#125461)"></i>
<i style="background:linear-gradient(90deg,#165c6d,#165f6e,#166270,#166573,#166776,#166a79,#166c7b,#156d7d,#156c7c,#146876,#146471,#13626f,#135e69,#135a64,#125663,#125562,#125461)"></i>
<i style="background:linear-gradient(90deg,#155c6c,#165e6d,#16626f,#166472,#166674,#166877,#156b7a,#156c7c,#146a7a,#146775,#146470,#13626f,#135e69,#135964,#125663,#125562,#125461)"></i>
<i style="background:linear-gradient(90deg,#155b6b,#155d6c,#16616e,#166370,#166472,#166775,#156978,#156a7a,#146978,#146674,#14636f,#13616e,#135d69,#135964,#125662,#125462,#125461)"></i>
<i style="background:linear-gradient(90deg,#155b6b,#155d6b,#15606d,#16626f,#166370,#156573,#156876,#146978,#146776,#146572,#13626e,#13606d,#135d68,#135864,#125662,#125461,#115360)"></i>
<i style="background:linear-gradient(90deg,#155a6a,#155c6a,#155f6c,#15606d,#15626f,#156471,#156674,#146776,#146675,#136471,#13616d,#135f6c,#135c68,#135863,#125562,#125461,#115360)"></i>
<i style="background:linear-gradient(90deg,#155a69,#155b69,#155e6b,#155f6c,#15606d,#156370,#146472,#146674,#136573,#136270,#13606c,#135f6b,#135c67,#135863,#125562,#125461,#115360)"></i>
<i style="background:linear-gradient(90deg,#155a69,#145b68,#145d69,#155e6b,#155f6b,#15616e,#146370,#146472,#136371,#13616e,#135f6b,#135e6a,#135b67,#135763,#125562,#125361,#115360)"></i>
<i style="background:linear-gradient(90deg,#155968,#145a67,#145c68,#155d69,#155e6a,#14606c,#14626f,#136371,#136270,#13606d,#135e6a,#135d69,#135b66,#125763,#125561,#125360,#11525f)"></i>
<i style="background:linear-gradient(90deg,#145967,#145967,#145b67,#145c68,#155d68,#145f6b,#14606d,#13616f,#13606e,#135f6c,#135e6a,#125d69,#135a66,#125762,#125461,#125360,#11525f)"></i>
<i style="background:linear-gradient(90deg,#145866,#145966,#145b66,#145b67,#145b67,#145d69,#135f6b,#13606d,#135f6d,#135e6a,#135d69,#125c68,#135a65,#125662,#125461,#125260,#12525e)"></i>
</div>
<section class="panel" aria-label="Supplement Facts"></section>
<header>
<div class="t b" style="top:231.4px;font-size:105px;left:101.0px;transform:scaleX(0.9822);-webkit-text-stroke:3.5px #000;">Supplement Facts</div>
<div class="t" style="top:347.6px;font-size:44.5px;left:98.0px;transform:scaleX(1.0157);-webkit-text-stroke:0.5px #141414;">Serving size: 2 capsules</div>
<div class="t" style="top:392.8px;font-size:44.5px;left:98.0px;transform:scaleX(1.0219);-webkit-text-stroke:0.5px #141414;">Servings per container: 30</div>
</header>
<div class="bar" style="top:450px;height:22px"></div>
<div class="t b" style="top:471.0px;font-size:42px;left:826.3px;transform:scaleX(1.0219);-webkit-text-stroke:0.8px #000;">Amount per Serving</div>
<div class="t b" style="top:477.0px;font-size:42px;left:1278.9px;transform:scaleX(0.9316);-webkit-text-stroke:0.8px #000;">%DV</div>
<div class="bar" style="top:521px;height:12px"></div>
<main>
<div class="t" style="top:536.6px;font-size:44.5px;left:90.5px;transform:scaleX(1.0262);-webkit-text-stroke:0.5px #141414;">Vitamin A (100% as beta-carotene)</div>
<div class="t" style="top:588.1px;font-size:44.5px;left:90.5px;transform:scaleX(1.0277);-webkit-text-stroke:0.5px #141414;">Vitamin C</div>
<div class="t" style="top:643.1px;font-size:44.5px;left:90.5px;transform:scaleX(1.0332);-webkit-text-stroke:0.5px #141414;">Vitamin D</div>
<div class="t" style="top:697.4px;font-size:44.5px;left:90.5px;transform:scaleX(1.0303);-webkit-text-stroke:0.5px #141414;">Vitamin E</div>
<div class="t" style="top:748.6px;font-size:44.5px;left:90.5px;transform:scaleX(1.0386);-webkit-text-stroke:0.5px #141414;">Vitamin K</div>
<div class="t" style="top:803.8px;font-size:44.5px;left:90.4px;transform:scaleX(1.0484);-webkit-text-stroke:0.5px #141414;">Thiamin</div>
<div class="t" style="top:854.9px;font-size:44.5px;left:88.3px;transform:scaleX(1.0463);-webkit-text-stroke:0.5px #141414;">Riboflavin</div>
<div class="t" style="top:909.3px;font-size:44.5px;left:88.2px;transform:scaleX(1.0636);-webkit-text-stroke:0.5px #141414;">Niacin</div>
<div class="t" style="top:963.6px;font-size:44.5px;left:90.5px;transform:scaleX(1.0371);-webkit-text-stroke:0.5px #141414;">Vitamin B6</div>
<div class="t" style="top:1015.1px;font-size:44.5px;left:88.3px;transform:scaleX(1.0437);-webkit-text-stroke:0.5px #141414;">Folate</div>
<div class="t" style="top:1068.7px;font-size:44.5px;left:90.5px;transform:scaleX(1.0388);-webkit-text-stroke:0.5px #141414;">Vitamin B12</div>
<div class="t" style="top:1120.5px;font-size:44.5px;left:88.2px;transform:scaleX(1.0811);-webkit-text-stroke:0.5px #141414;">Biotin</div>
<div class="t" style="top:1175.6px;font-size:44.5px;left:88.3px;transform:scaleX(1.0463);-webkit-text-stroke:0.5px #141414;">Pantothenic acid</div>
<div class="t" style="top:1230.0px;font-size:44.5px;left:88.2px;transform:scaleX(1.0560);-webkit-text-stroke:0.5px #141414;">Magnesium</div>
<div class="t" style="top:1294.1px;font-size:44.5px;left:88.3px;transform:scaleX(1.0321);-webkit-text-stroke:0.5px #141414;">Magnesium Krebs cycle powder</div>
<div class="t" style="top:1345.8px;font-size:44.5px;left:88.3px;transform:scaleX(1.0329);-webkit-text-stroke:0.5px #141414;">Potassium Krebs cycle powder</div>
<div class="t" style="top:1399.5px;font-size:44.5px;left:90.1px;transform:scaleX(1.0370);-webkit-text-stroke:0.5px #141414;">Alpha-lipoic acid</div>
<div class="t" style="top:1453.5px;font-size:44.5px;left:88.2px;transform:scaleX(1.0584);-webkit-text-stroke:0.5px #141414;">Benfotiamine</div>
<div class="t" style="top:1505.3px;font-size:44.5px;left:91.7px;transform:scaleX(1.0305);-webkit-text-stroke:0.5px #141414;">Trace minerals complex</div>
<div class="t" style="top:536.6px;font-size:44.5px;left:932.0px;transform:scaleX(1.0148);-webkit-text-stroke:0.5px #141414;">125 mcg RAE</div>
<div class="t" style="top:588.1px;font-size:44.5px;left:956.8px;transform:scaleX(1.0924);-webkit-text-stroke:0.5px #141414;">30 mg</div>
<div class="t" style="top:643.1px;font-size:44.5px;left:983.8px;transform:scaleX(1.0855);-webkit-text-stroke:0.5px #141414;">5 mcg</div>
<div class="t" style="top:697.4px;font-size:44.5px;left:957.2px;transform:scaleX(1.0890);-webkit-text-stroke:0.5px #141414;">10 mg</div>
<div class="t" style="top:748.6px;font-size:44.5px;left:957.9px;transform:scaleX(1.0769);-webkit-text-stroke:0.5px #141414;">40 mcg</div>
<div class="t" style="top:803.8px;font-size:44.5px;left:946.5px;transform:scaleX(1.0632);-webkit-text-stroke:0.5px #141414;">0.7 mg</div>
<div class="t" style="top:854.9px;font-size:44.5px;left:946.5px;transform:scaleX(1.0632);-webkit-text-stroke:0.5px #141414;">0.8 mg</div>
<div class="t" style="top:909.3px;font-size:44.5px;left:957.2px;transform:scaleX(1.0890);-webkit-text-stroke:0.5px #141414;">10 mg</div>
<div class="t" style="top:963.6px;font-size:44.5px;left:984.5px;transform:scaleX(1.0777);-webkit-text-stroke:0.5px #141414;">1 mg</div>
<div class="t" style="top:1015.1px;font-size:44.5px;left:930.8px;transform:scaleX(1.0843);-webkit-text-stroke:0.5px #141414;">200 mcg</div>
<div class="t" style="top:1068.7px;font-size:44.5px;left:945.5px;transform:scaleX(1.0740);-webkit-text-stroke:0.5px #141414;">2.4 mcg</div>
<div class="t" style="top:1120.5px;font-size:44.5px;left:933.2px;transform:scaleX(1.0703);-webkit-text-stroke:0.5px #141414;">150 mcg</div>
<div class="t" style="top:1175.6px;font-size:44.5px;left:984.6px;transform:scaleX(1.0758);-webkit-text-stroke:0.5px #141414;">5 mg</div>
<div class="t" style="top:1230.0px;font-size:44.5px;left:958.3px;transform:scaleX(1.0798);-webkit-text-stroke:0.5px #141414;">57 mg</div>
<div class="t" style="top:1294.1px;font-size:44.5px;left:931.8px;transform:scaleX(1.0764);-webkit-text-stroke:0.5px #141414;">250 mg</div>
<div class="t" style="top:1345.8px;font-size:44.5px;left:931.8px;transform:scaleX(1.0764);-webkit-text-stroke:0.5px #141414;">250 mg</div>
<div class="t" style="top:1399.5px;font-size:44.5px;left:931.8px;transform:scaleX(1.0764);-webkit-text-stroke:0.5px #141414;">200 mg</div>
<div class="t" style="top:1453.5px;font-size:44.5px;left:934.8px;transform:scaleX(1.0559);-webkit-text-stroke:0.5px #141414;">100 mg</div>
<div class="t" style="top:1505.3px;font-size:44.5px;left:958.3px;transform:scaleX(1.0798);-webkit-text-stroke:0.5px #141414;">50 mg</div>
<div class="t" style="top:536.6px;font-size:44.5px;left:1282.7px;transform:scaleX(0.9471);-webkit-text-stroke:0.5px #141414;">14%</div>
<div class="t" style="top:588.1px;font-size:44.5px;left:1281.1px;transform:scaleX(0.9651);-webkit-text-stroke:0.5px #141414;">33%</div>
<div class="t" style="top:643.1px;font-size:44.5px;left:1281.1px;transform:scaleX(0.9651);-webkit-text-stroke:0.5px #141414;">25%</div>
<div class="t" style="top:697.4px;font-size:44.5px;left:1281.1px;transform:scaleX(0.9651);-webkit-text-stroke:0.5px #141414;">67%</div>
<div class="t" style="top:748.6px;font-size:44.5px;left:1281.1px;transform:scaleX(0.9651);-webkit-text-stroke:0.5px #141414;">33%</div>
<div class="t" style="top:803.8px;font-size:44.5px;left:1281.1px;transform:scaleX(0.9651);-webkit-text-stroke:0.5px #141414;">58%</div>
<div class="t" style="top:854.9px;font-size:44.5px;left:1281.1px;transform:scaleX(0.9651);-webkit-text-stroke:0.5px #141414;">62%</div>
<div class="t" style="top:909.3px;font-size:44.5px;left:1281.1px;transform:scaleX(0.9651);-webkit-text-stroke:0.5px #141414;">63%</div>
<div class="t" style="top:963.6px;font-size:44.5px;left:1281.1px;transform:scaleX(0.9651);-webkit-text-stroke:0.5px #141414;">59%</div>
<div class="t" style="top:1015.1px;font-size:44.5px;left:1281.1px;transform:scaleX(0.9651);-webkit-text-stroke:0.5px #141414;">50%</div>
<div class="t" style="top:1068.7px;font-size:44.5px;left:1258.1px;transform:scaleX(0.9545);-webkit-text-stroke:0.5px #141414;">100%</div>
<div class="t" style="top:1120.5px;font-size:44.5px;left:1257.7px;transform:scaleX(0.9586);-webkit-text-stroke:0.5px #141414;">500%</div>
<div class="t" style="top:1175.6px;font-size:44.5px;left:1258.1px;transform:scaleX(0.9545);-webkit-text-stroke:0.5px #141414;">100%</div>
<div class="t" style="top:1230.0px;font-size:44.5px;left:1282.7px;transform:scaleX(0.9471);-webkit-text-stroke:0.5px #141414;">14%</div>
<div class="t" style="top:1295.1px;font-size:51px;left:1347.4px;transform:scaleX(1.0056);-webkit-text-stroke:0.5px #141414;">*</div>
<div class="t" style="top:1346.8px;font-size:51px;left:1347.4px;transform:scaleX(1.0056);-webkit-text-stroke:0.5px #141414;">*</div>
<div class="t" style="top:1400.5px;font-size:51px;left:1347.4px;transform:scaleX(1.0056);-webkit-text-stroke:0.5px #141414;">*</div>
<div class="t" style="top:1454.5px;font-size:51px;left:1347.4px;transform:scaleX(1.0056);-webkit-text-stroke:0.5px #141414;">*</div>
<div class="t" style="top:1506.3px;font-size:51px;left:1347.4px;transform:scaleX(1.0056);-webkit-text-stroke:0.5px #141414;">*</div>
</main>
<div class="ln" style="top:587px"></div>
<div class="ln" style="top:639px"></div>
<div class="ln" style="top:690px"></div>
<div class="ln" style="top:745px"></div>
<div class="ln" style="top:797px"></div>
<div class="ln" style="top:850px"></div>
<div class="ln" style="top:906px"></div>
<div class="ln" style="top:960px"></div>
<div class="ln" style="top:1012px"></div>
<div class="ln" style="top:1066px"></div>
<div class="ln" style="top:1118px"></div>
<div class="ln" style="top:1171px"></div>
<div class="ln" style="top:1225px"></div>
<div class="ln" style="top:1344px"></div>
<div class="ln" style="top:1396px"></div>
<div class="ln" style="top:1451px"></div>
<div class="ln" style="top:1500px"></div>
<div class="bar" style="top:1281px;height:13px"></div>
<div class="bar" style="top:1559px;height:22px;left:90px;width:1278px"></div>
<div class="t" style="top:1585.8px;font-size:44.5px;left:89.1px;transform:scaleX(1.0357);-webkit-text-stroke:0.5px #141414;">*Daily Value not established.</div>
<aside>
<div class="t b w" style="top:228.1px;font-size:45px;left:1454.0px;transform:scaleX(1.0198);-webkit-text-stroke:2.0px #fff;">Ingredients:</div>
<div class="t w" style="top:283.8px;font-size:46px;left:1452.7px;transform:scaleX(1.1141);-webkit-text-stroke:1.3px #fff;">Microcrystalline</div>
<div class="t w" style="top:340.0px;font-size:46px;left:1454.9px;transform:scaleX(1.0706);-webkit-text-stroke:1.3px #fff;">cellulose, magnesium</div>
<div class="t w" style="top:396.2px;font-size:46px;left:1452.8px;transform:scaleX(1.0691);-webkit-text-stroke:1.3px #fff;">Krebs cycle powder,</div>
<div class="t w" style="top:452.3px;font-size:46px;left:1453.8px;transform:scaleX(1.0766);-webkit-text-stroke:1.3px #fff;">potassium Krebs cycle</div>
<div class="t w" style="top:508.5px;font-size:46px;left:1453.9px;transform:scaleX(1.0616);-webkit-text-stroke:1.3px #fff;">powder, vegetable</div>
<div class="t w" style="top:564.7px;font-size:46px;left:1454.9px;transform:scaleX(1.0778);-webkit-text-stroke:1.3px #fff;">capsule, fruit and</div>
<div class="t w" style="top:620.9px;font-size:46px;left:1456.0px;transform:scaleX(1.0557);-webkit-text-stroke:1.3px #fff;">vegetable blend</div>
<div class="t w" style="top:677.1px;font-size:46px;left:1453.8px;transform:scaleX(1.0803);-webkit-text-stroke:1.3px #fff;">(spinach (leaf),</div>
<div class="t w" style="top:733.2px;font-size:46px;left:1453.8px;transform:scaleX(1.0826);-webkit-text-stroke:1.3px #fff;">broccoli (flower &amp;</div>
<div class="t w" style="top:789.4px;font-size:46px;left:1454.9px;transform:scaleX(1.0815);-webkit-text-stroke:1.3px #fff;">stem), carrot (root),</div>
<div class="t w" style="top:845.6px;font-size:46px;left:1453.8px;transform:scaleX(1.0761);-webkit-text-stroke:1.3px #fff;">beet (entire plant),</div>
<div class="t w" style="top:901.8px;font-size:46px;left:1456.0px;transform:scaleX(1.1130);-webkit-text-stroke:1.3px #fff;">tomato (fruit),</div>
<div class="t w" style="top:958.0px;font-size:46px;left:1454.9px;transform:scaleX(1.0876);-webkit-text-stroke:1.3px #fff;">shiitake mushroom,</div>
<div class="t w" style="top:1014.1px;font-size:46px;left:1454.9px;transform:scaleX(1.0913);-webkit-text-stroke:1.3px #fff;">apple (fruit),</div>
<div class="t w" style="top:1070.3px;font-size:46px;left:1454.9px;transform:scaleX(1.0892);-webkit-text-stroke:1.3px #fff;">cranberry (fruit),</div>
<div class="t w" style="top:1126.5px;font-size:46px;left:1454.9px;transform:scaleX(1.0846);-webkit-text-stroke:1.3px #fff;">orange (fruit),</div>
<div class="t w" style="top:1182.7px;font-size:46px;left:1453.8px;transform:scaleX(1.0940);-webkit-text-stroke:1.3px #fff;">blueberry (fruit),</div>
<div class="t w" style="top:1238.9px;font-size:46px;left:1454.9px;transform:scaleX(1.0997);-webkit-text-stroke:1.3px #fff;">strawberry (fruit)),</div>
<div class="t w" style="top:1295.0px;font-size:46px;left:1454.9px;transform:scaleX(1.0804);-webkit-text-stroke:1.3px #fff;">alpha lipoic acid,</div>
<div class="t w" style="top:1351.2px;font-size:46px;left:1453.8px;transform:scaleX(1.0941);-webkit-text-stroke:1.3px #fff;">benfotiamine,</div>
<div class="t w" style="top:1407.4px;font-size:46px;left:1456.0px;transform:scaleX(1.0729);-webkit-text-stroke:1.3px #fff;">trace minerals</div>
<div class="t w" style="top:1463.6px;font-size:46px;left:1454.9px;transform:scaleX(1.0696);-webkit-text-stroke:1.3px #fff;">complex, magnesium</div>
<div class="t w" style="top:1519.8px;font-size:46px;left:1454.9px;transform:scaleX(1.0629);-webkit-text-stroke:1.3px #fff;">stearate,</div>
<div class="t w" style="top:1575.9px;font-size:46px;left:1453.8px;transform:scaleX(1.0949);-webkit-text-stroke:1.3px #fff;">methylcobalamin.</div>
</aside>
<footer>
<div class="t b w" style="top:1678.2px;font-size:45px;left:54.0px;transform:scaleX(1.0059);-webkit-text-stroke:2.0px #fff;">Suggested Use:</div>
<div class="t w" style="top:1677.7px;font-size:46px;left:409.9px;transform:scaleX(1.0620);-webkit-text-stroke:1.3px #fff;">As a dietary supplement, take 2 capsules</div>
<div class="t w" style="top:1733.9px;font-size:46px;left:53.8px;transform:scaleX(1.0809);-webkit-text-stroke:1.3px #fff;">per day, in the morning, with or without food.</div>
</footer>
</body></html>
